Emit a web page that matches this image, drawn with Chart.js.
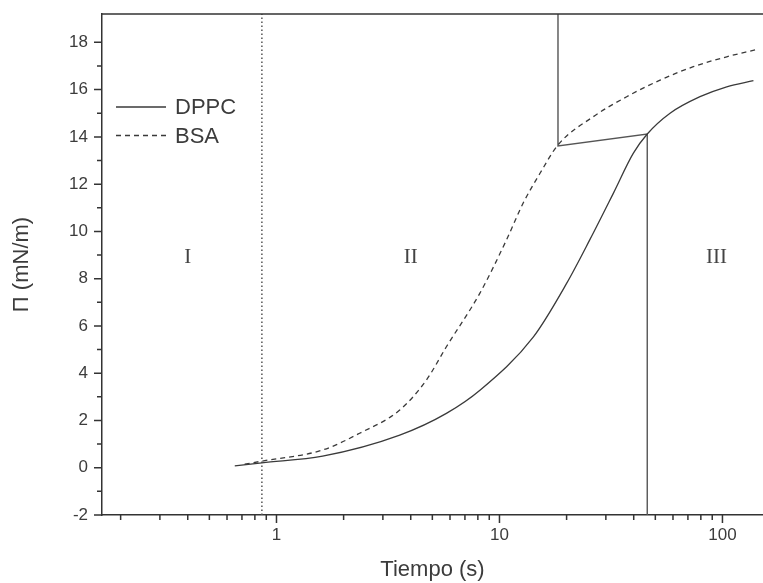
<!DOCTYPE html>
<html>

<head>
    <title>Presion superficial vs tiempo</title>
    <meta charset="utf-8" />
    <style>
        body { margin: 0; background: #fff; }
        #wrap { width: 763px; height: 583px; }
    </style>
</head>

<body>
    <div id="wrap">
        <canvas id="myChart" width="763" height="583"></canvas>
    </div>

    <script src="https://cdn.jsdelivr.net/npm/chart.js"></script>
    <script type="text/javascript">
        // DPPC curve: tiempo (s) / presion (mN/m)
        const dppcTime = [0.65, 0.86, 1.61, 3.57, 5.78, 8.2, 14.2, 20.0, 25.4, 32.4, 39.8, 46.0, 58.2, 79.3, 104.5, 137.7];
        const dppcPi = [0.08, 0.21, 0.49, 1.38, 2.30, 3.29, 5.54, 7.80, 9.64, 11.61, 13.30, 14.12, 15.0, 15.7, 16.12, 16.38];

        // BSA curve
        const bsaTime = [0.72, 0.86, 1.61, 2.36, 3.57, 4.70, 5.78, 8.16, 10.75, 12.76, 15.2, 18.3, 26.3, 37.2, 52.5, 74.0, 104.5, 140];
        const bsaPi = [0.15, 0.28, 0.75, 1.46, 2.44, 3.71, 5.12, 7.38, 9.64, 11.19, 12.46, 13.66, 14.85, 15.70, 16.40, 16.97, 17.39, 17.68];

        // borders between regions I / II / III
        const borderOneTime = [0.86, 0.86];
        const borderOnePi = [-2, 19.2];
        const borderTwoTime = [18.3, 18.3, 46.0, 46.0];
        const borderTwoPi = [19.2, 13.62, 14.12, -2];

        // axis ticks
        const xMajorTicks = [1, 10, 100];
        const xMinorTicks = [0.2, 0.3, 0.4, 0.5, 0.6, 0.7, 0.8, 0.9, 2, 3, 4, 5, 6, 7, 8, 9, 20, 30, 40, 50, 60, 70, 80, 90];
        const yMajorTicks = [-2, 0, 2, 4, 6, 8, 10, 12, 14, 16, 18];
        const yMinorTicks = [-1, 1, 3, 5, 7, 9, 11, 13, 15, 17];

        // region names
        const regionNames = ['I', 'II', 'III'];
        const regionTime = [0.4, 4.0, 94];
        const regionPi = [8.9, 8.9, 8.9];

        const SANS = '"Liberation Sans", Arial, sans-serif';
        const SERIF = '"Liberation Serif", "Times New Roman", serif';
        const INK = '#3a3a3a';

        function toPoints(xs, ys) {
            return xs.map((x, i) => ({ x: x, y: ys[i] }));
        }

        // frame top, tick marks, region names and legend
        const axisMarks = {
            id: 'axisMarks',
            afterDraw(chart) {
                const { ctx, chartArea, scales } = chart;
                const x = scales.x;
                const y = scales.y;
                ctx.save();
                ctx.strokeStyle = '#333';
                ctx.lineWidth = 1.5;
                ctx.beginPath();
                ctx.moveTo(chartArea.left, chartArea.top);
                ctx.lineTo(chartArea.right, chartArea.top);
                xMajorTicks.forEach((v) => {
                    const px = x.getPixelForValue(v);
                    ctx.moveTo(px, chartArea.bottom);
                    ctx.lineTo(px, chartArea.bottom + 8);
                });
                xMinorTicks.forEach((v) => {
                    const px = x.getPixelForValue(v);
                    ctx.moveTo(px, chartArea.bottom);
                    ctx.lineTo(px, chartArea.bottom + 5);
                });
                yMajorTicks.forEach((v) => {
                    const py = y.getPixelForValue(v);
                    ctx.moveTo(chartArea.left, py);
                    ctx.lineTo(chartArea.left - 8, py);
                });
                yMinorTicks.forEach((v) => {
                    const py = y.getPixelForValue(v);
                    ctx.moveTo(chartArea.left, py);
                    ctx.lineTo(chartArea.left - 5, py);
                });
                ctx.stroke();

                ctx.fillStyle = '#444';
                ctx.font = '21px ' + SERIF;
                ctx.textAlign = 'center';
                ctx.textBaseline = 'middle';
                regionNames.forEach((name, i) => {
                    ctx.fillText(name, x.getPixelForValue(regionTime[i]), y.getPixelForValue(regionPi[i]));
                });

                // legend
                ctx.textAlign = 'left';
                ctx.font = '22px ' + SANS;
                chart.data.datasets.slice(0, 2).forEach((ds, i) => {
                    const ly = 107 + i * 28.5;
                    ctx.beginPath();
                    ctx.setLineDash(ds.borderDash || []);
                    ctx.lineWidth = ds.borderWidth;
                    ctx.strokeStyle = ds.borderColor;
                    ctx.moveTo(116, ly);
                    ctx.lineTo(166, ly);
                    ctx.stroke();
                    ctx.setLineDash([]);
                    ctx.fillStyle = '#3c3c3c';
                    ctx.fillText(ds.label, 175, ly + 1);
                });
                ctx.restore();
            }
        };

        const ctx = document.getElementById('myChart');

        new Chart(ctx, {
            type: 'line',
            data: {
                datasets: [{
                    label: 'DPPC',
                    data: toPoints(dppcTime, dppcPi),
                    borderColor: INK,
                    borderWidth: 1.3,
                    pointRadius: 0,
                    cubicInterpolationMode: 'monotone',
                    fill: false
                }, {
                    label: 'BSA',
                    data: toPoints(bsaTime, bsaPi),
                    borderColor: INK,
                    borderWidth: 1.3,
                    borderDash: [5, 4],
                    pointRadius: 0,
                    cubicInterpolationMode: 'monotone',
                    fill: false
                }, {
                    label: 'limite I-II',
                    data: toPoints(borderOneTime, borderOnePi),
                    borderColor: '#555',
                    borderWidth: 1.5,
                    borderDash: [1.5, 2.5],
                    pointRadius: 0,
                    tension: 0,
                    fill: false
                }, {
                    label: 'limite II-III',
                    data: toPoints(borderTwoTime, borderTwoPi),
                    borderColor: '#555',
                    borderWidth: 1.4,
                    pointRadius: 0,
                    tension: 0,
                    fill: false
                }]
            },
            options: {
                responsive: false,
                animation: false,
                devicePixelRatio: 1,
                layout: {
                    padding: { top: 14, right: 0, bottom: 0, left: 0 }
                },
                plugins: {
                    legend: { display: false },
                    tooltip: { enabled: false }
                },
                scales: {
                    x: {
                        type: 'logarithmic',
                        min: 0.165,
                        max: 152,
                        afterBuildTicks: (scale) => {
                            scale.ticks = xMajorTicks.map((v) => ({ value: v }));
                        },
                        afterFit: (scale) => {
                            scale.height = 68;
                            scale.paddingLeft = 0;
                            scale.paddingRight = 0;
                        },
                        grid: { display: false, drawTicks: false },
                        border: { display: true, color: '#333', width: 1.5 },
                        ticks: {
                            padding: 10,
                            autoSkip: false,
                            maxRotation: 0,
                            color: '#3c3c3c',
                            font: { family: SANS, size: 17 },
                            callback: (v) => String(v)
                        },
                        title: {
                            display: true,
                            text: 'Tiempo (s)',
                            color: '#3c3c3c',
                            font: { family: SANS, size: 22 },
                            padding: { top: 0, bottom: 0 }
                        }
                    },
                    y: {
                        min: -2,
                        max: 19.2,
                        afterBuildTicks: (scale) => {
                            scale.ticks = yMajorTicks.map((v) => ({ value: v }));
                        },
                        afterFit: (scale) => {
                            scale.width = 102;
                            scale.paddingTop = 0;
                            scale.paddingBottom = 0;
                        },
                        grid: { display: false, drawTicks: false },
                        border: { display: true, color: '#333', width: 1.5 },
                        ticks: {
                            padding: 14,
                            color: '#3c3c3c',
                            font: { family: SANS, size: 17 }
                        },
                        title: {
                            display: true,
                            text: 'Π (mN/m)',
                            color: '#3c3c3c',
                            font: { family: SANS, size: 22 },
                            padding: { top: 9, bottom: 0 }
                        }
                    }
                }
            },
            plugins: [axisMarks]
        });
    </script>
</body>

</html>
